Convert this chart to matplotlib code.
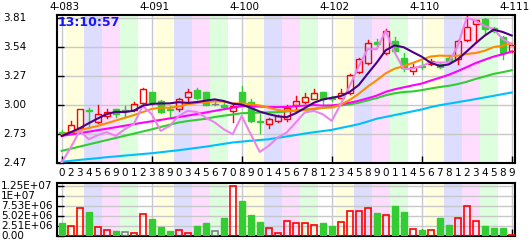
import matplotlib
matplotlib.use("Agg")
import matplotlib.pyplot as plt
from matplotlib.patches import Rectangle
from matplotlib.transforms import blended_transform_factory

# ---------------- data ----------------
day_digits = ['0','2','3','4','5','6','9','0','1','2','3','8','9','0','3','4','5','6','7','0',
              '8','9','0','1','4','5','6','7','8','1','2','3','4','5','8','9','0','1','1','4',
              '5','6','7','8','1','2','3','4','5','8','9']
top_labels = ['4-083', '4-091', '4-100', '4-102', '4-110', '4-111']
top_label_idx = [0, 10, 20, 30, 40, 50]

opens = [2.750, 2.754, 2.790, 2.960, 2.842, 2.903, 2.965, 2.956, 2.956, 3.021,
         3.126, 3.043, 2.970, 2.972, 3.082, 3.142, 3.123, 3.018, 3.005, 2.950,
         3.130, 3.028, 2.857, 2.832, 2.857, 2.872, 3.005, 3.028, 3.065, 3.126,
         3.070, 3.074, 3.120, 3.312, 3.400, 3.595, 3.493, 3.601, 3.446, 3.322,
         3.370, 3.384, 3.390, 3.446, 3.437, 3.610, 3.756, 3.809, 3.720, 3.633, 3.508]
highs = [2.770, 2.854, 2.970, 2.980, 3.003, 2.972, 2.970, 2.996, 3.033, 3.160,
         3.130, 3.050, 2.996, 3.074, 3.158, 3.161, 3.130, 3.040, 3.030, 3.000,
         3.182, 3.065, 2.920, 2.880, 2.910, 3.000, 3.085, 3.120, 3.151, 3.130,
         3.090, 3.150, 3.290, 3.440, 3.610, 3.617, 3.710, 3.635, 3.493, 3.384,
         3.412, 3.430, 3.400, 3.467, 3.610, 3.829, 3.800, 3.815, 3.730, 3.650, 3.570]
lows = [2.720, 2.750, 2.780, 2.800, 2.840, 2.888, 2.891, 2.903, 2.950, 3.010,
        3.000, 2.930, 2.903, 2.950, 3.030, 3.060, 3.000, 3.000, 2.965, 2.842,
        3.020, 2.850, 2.742, 2.786, 2.850, 2.860, 2.940, 3.020, 3.060, 3.012,
        3.040, 3.070, 3.110, 3.300, 3.390, 3.542, 3.480, 3.500, 3.322, 3.290,
        3.340, 3.380, 3.350, 3.400, 3.384, 3.600, 3.589, 3.664, 3.680, 3.431, 3.500]
closes = [2.740, 2.817, 2.965, 2.950, 2.925, 2.944, 2.919, 2.956, 3.012, 3.158,
          3.030, 2.940, 2.960, 3.065, 3.126, 3.068, 3.007, 3.018, 2.990, 2.996,
          3.028, 2.857, 2.842, 2.872, 2.903, 2.981, 3.043, 3.080, 3.117, 3.058,
          3.060, 3.120, 3.282, 3.431, 3.586, 3.575, 3.694, 3.508, 3.345, 3.362,
          3.362, 3.410, 3.362, 3.415, 3.601, 3.726, 3.796, 3.711, 3.694, 3.493, 3.560]
volumes = [3.09e6, 2.50e6, 6.95e6, 5.85e6, 2.26e6, 1.50e6, 1.08e6, 1.00e6, 0.67e6, 5.40e6,
           4.10e6, 2.10e6, 1.08e6, 1.40e6, 0.67e6, 2.50e6, 3.10e6, 1.08e6, 4.35e6, 12.40e6,
           8.80e6, 5.27e6, 3.50e6, 1.93e6, 0.67e6, 3.77e6, 3.20e6, 3.20e6, 2.68e6, 3.20e6,
           2.50e6, 3.50e6, 6.30e6, 6.30e6, 6.95e6, 5.77e6, 5.20e6, 7.53e6, 6.00e6, 1.68e6,
           1.50e6, 1.50e6, 4.35e6, 2.76e6, 4.43e6, 7.36e6, 3.77e6, 2.50e6, 1.84e6, 1.93e6, 0.25e6]

ma5 = [2.717, 2.751, 2.789, 2.835, 2.879, 2.920, 2.941, 2.939, 2.951, 2.998,
       3.015, 3.019, 3.020, 3.031, 3.024, 3.032, 3.045, 3.057, 3.042, 3.016,
       3.008, 2.978, 2.943, 2.919, 2.900, 2.891, 2.928, 2.976, 3.025, 3.056,
       3.072, 3.087, 3.127, 3.190, 3.296, 3.399, 3.514, 3.559, 3.542, 3.497,
       3.454, 3.397, 3.368, 3.382, 3.430, 3.503, 3.580, 3.650, 3.706, 3.684, 3.651]
ma10 = [2.733, 2.750, 2.770, 2.790, 2.810, 2.835, 2.860, 2.885, 2.910, 2.939,
        2.968, 2.980, 2.979, 2.991, 3.011, 3.023, 3.032, 3.038, 3.036, 3.020,
        3.020, 3.012, 3.000, 2.980, 2.958, 2.949, 2.953, 2.959, 2.972, 2.978,
        2.981, 3.008, 3.052, 3.108, 3.176, 3.235, 3.300, 3.343, 3.366, 3.396,
        3.427, 3.456, 3.464, 3.462, 3.463, 3.479, 3.489, 3.509, 3.544, 3.557, 3.577]
ma20 = [2.717, 2.730, 2.743, 2.756, 2.770, 2.784, 2.798, 2.812, 2.826, 2.840,
        2.853, 2.866, 2.880, 2.893, 2.906, 2.920, 2.935, 2.950, 2.965, 2.979,
        2.994, 2.996, 2.990, 2.986, 2.985, 2.986, 2.993, 2.999, 3.004, 2.999,
        3.001, 3.010, 3.026, 3.044, 3.067, 3.092, 3.127, 3.151, 3.169, 3.187,
        3.204, 3.232, 3.258, 3.285, 3.320, 3.357, 3.395, 3.426, 3.455, 3.477, 3.502]
ma30 = [2.578, 2.598, 2.618, 2.638, 2.658, 2.678, 2.698, 2.718, 2.738, 2.758,
        2.778, 2.800, 2.821, 2.842, 2.855, 2.866, 2.876, 2.893, 2.905, 2.916,
        2.928, 2.931, 2.934, 2.936, 2.938, 2.945, 2.952, 2.959, 2.966, 2.979,
        2.990, 3.000, 3.010, 3.026, 3.048, 3.069, 3.095, 3.114, 3.125, 3.131,
        3.143, 3.158, 3.172, 3.183, 3.199, 3.221, 3.247, 3.270, 3.294, 3.310, 3.328]
ma60 = [2.477, 2.485, 2.494, 2.502, 2.510, 2.519, 2.526, 2.534, 2.541, 2.549,
        2.556, 2.565, 2.575, 2.584, 2.595, 2.606, 2.617, 2.630, 2.643, 2.656,
        2.664, 2.672, 2.679, 2.686, 2.699, 2.712, 2.725, 2.739, 2.751, 2.762,
        2.773, 2.791, 2.808, 2.826, 2.851, 2.877, 2.894, 2.911, 2.928, 2.946,
        2.963, 2.985, 3.003, 3.017, 3.031, 3.045, 3.060, 3.075, 3.090, 3.106, 3.121]
violet = [2.470, 2.609, 2.764, 2.686, 2.724, 2.752, 2.717, 2.779, 2.826, 2.996,
          2.919, 2.764, 2.810, 2.903, 2.950, 2.940, 2.888, 2.842, 2.779, 2.733,
          2.903, 2.733, 2.568, 2.624, 2.702, 2.749, 2.842, 2.935, 2.950, 2.919,
          2.857, 3.012, 3.182, 3.365, 3.524, 3.524, 3.694, 3.493, 3.338, 3.344,
          3.368, 3.400, 3.400, 3.400, 3.554, 3.818, 3.787, 3.740, 3.710, 3.617, 3.570]

price_ticks = [2.465, 2.735, 3.005, 3.275, 3.545, 3.815]
price_tick_labels = ['2.47', '2.73', '3.00', '3.27', '3.54', '3.81']
vol_ticks = [0, 2.51e6, 5.02e6, 7.53e6, 1.004e7, 1.255e7]
vol_tick_labels = ['0.00', '2.51E+06', '5.02E+06', '7.53E+06', '1E+07', '1.25E+07']
band_colors = ['#FFFFDD', '#DDDDFF', '#FFDDFF', '#DDFFDD', '#FFFFFF']
clock_text = '13:10:57'

# ---------------- layout ----------------
W, H = 529, 240
fig = plt.figure(figsize=(W / 100, H / 100), dpi=100)
fig.patch.set_facecolor('white')

def px_axes(left, top, right, bottom):
    return fig.add_axes([left / W, 1 - bottom / H, (right - left) / W, (bottom - top) / H])

ax = px_axes(56.5, 15, 514.5, 163)
axv = px_axes(56.5, 183, 514.5, 235.8)

n = len(closes)
xs = list(range(n))
XMIN, XMAX = -0.58, 50.31
RED = '#FF0000'
GREEN = '#33CC33'
GRAY = '#808080'
FS = 7.5

for a in (ax, axv):
    a.set_xlim(XMIN, XMAX)
    a.set_facecolor('white')
    j = -1
    while True:
        x0 = 0.5 + 2 * j
        if x0 > XMAX:
            break
        a.axvspan(x0, x0 + 2, color=band_colors[j % 5], lw=0, zorder=0)
        j += 1
    for s in a.spines.values():
        s.set_color('black')
        s.set_linewidth(1.5)
    a.set_xticks(top_label_idx)
    a.tick_params(axis='x', direction='in', length=5, width=1, color='black',
                  labelbottom=False, bottom=True, top=False)
    a.tick_params(axis='y', direction='in', length=5, width=1, color='black',
                  labelleft=False, left=True, right=False)
    a.grid(True, color='#C8C8C8', lw=1, zorder=0.5)
    a.set_axisbelow(True)

ax.set_ylim(2.465, 3.842)
ax.set_yticks(price_ticks)
axv.set_ylim(0, 1.318e7)
axv.set_yticks(vol_ticks)

bw = 0.67
for i in xs:
    o, h, l, c = opens[i], highs[i], lows[i], closes[i]
    if c > o:
        col = RED
        ax.add_patch(Rectangle((i - bw / 2, o), bw, c - o, facecolor='none',
                               edgecolor=col, lw=1, zorder=3))
        ax.plot([i, i], [c, h], color=col, lw=1, zorder=3)
        ax.plot([i, i], [l, o], color=col, lw=1, zorder=3)
        axv.add_patch(Rectangle((i - bw / 2, 0), bw, volumes[i], facecolor='none',
                                edgecolor=col, lw=1.2, zorder=3))
    elif c < o:
        col = GREEN
        ax.plot([i, i], [l, h], color=col, lw=1, zorder=3)
        ax.add_patch(Rectangle((i - bw / 2, c), bw, o - c, facecolor=col,
                               edgecolor=col, lw=1, zorder=3))
        axv.add_patch(Rectangle((i - bw / 2, 0), bw, volumes[i], facecolor=col,
                                edgecolor=col, lw=1, zorder=3))
    else:
        col = GRAY
        ax.plot([i, i], [l, h], color=col, lw=1, zorder=3)
        ax.plot([i - bw / 2, i + bw / 2], [c, c], color=col, lw=1, zorder=3)
        axv.add_patch(Rectangle((i - bw / 2, 0), bw, volumes[i], facecolor='none',
                                edgecolor=col, lw=1.2, zorder=3))

lw = 1.5
ax.plot(xs, ma60, color='#00BFFF', lw=lw, zorder=4)
ax.plot(xs, ma30, color='#33CC33', lw=lw, zorder=4)
ax.plot(xs, ma20, color='#FF00FF', lw=lw, zorder=4)
ax.plot(xs, ma10, color='#FF8C00', lw=lw, zorder=4)
ax.plot(xs, violet, color='#EE82EE', lw=lw, zorder=4)
ax.plot(xs, ma5, color='#4B0082', lw=lw, zorder=4)

tr_main = blended_transform_factory(fig.transFigure, ax.transData)
for v, t in zip(price_ticks, price_tick_labels):
    ax.text(3 / W, v, t, transform=tr_main, ha='left', va='center', fontsize=FS,
            color='black', clip_on=False)
tr_vol = blended_transform_factory(fig.transFigure, axv.transData)
for v, t in zip(vol_ticks, vol_tick_labels):
    axv.text(1 / W, v, t, transform=tr_vol, ha='left', va='center', fontsize=FS,
             color='black', clip_on=False)

tr_top = blended_transform_factory(ax.transData, fig.transFigure)
for idx, t in zip(top_label_idx, top_labels):
    ax.text(idx + 0.35, 1 - 7.5 / H, t, transform=tr_top, ha='center', va='center',
            fontsize=FS, color='black', clip_on=False)
for i, d in enumerate(day_digits):
    ax.text(i, 1 - 172.5 / H, d, transform=tr_top, ha='center', va='center',
            fontsize=FS, color='black', clip_on=False)

ax.text(58 / W, 1 - 22.5 / H, clock_text, transform=fig.transFigure, ha='left',
        va='center', fontsize=9, fontweight='bold', color='#1515FF', zorder=6)

fig.savefig('out.png', dpi=100)
